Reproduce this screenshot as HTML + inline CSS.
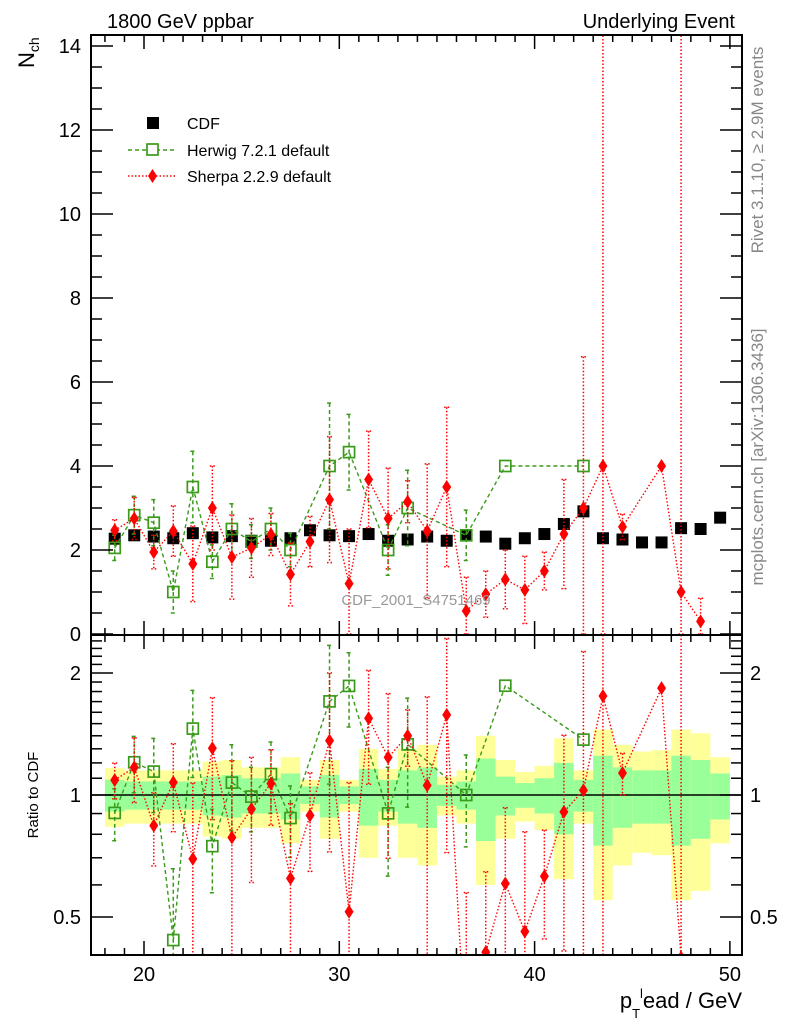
<!DOCTYPE html>
<html><head><meta charset="utf-8"><style>
html,body{margin:0;padding:0;background:#fff;width:786px;height:1024px;overflow:hidden;}
svg{display:block;font-family:"Liberation Sans",sans-serif;}
</style></head><body>
<svg id="c" width="786" height="1024" viewBox="0 0 786 1024" xmlns="http://www.w3.org/2000/svg">
<defs>
<clipPath id="cm"><rect x="91" y="35" width="651" height="600"/></clipPath>
<clipPath id="cr"><rect x="91" y="635" width="651" height="320"/></clipPath>
</defs>
<g id="bands" clip-path="url(#cr)"></g>
<g id="marks"></g>
<rect x="91" y="35" width="651" height="920" fill="none" stroke="#000" stroke-width="2"/>
<line x1="91" y1="635" x2="742" y2="635" stroke="#000" stroke-width="2"/>
<g id="axes"></g>
<text x="107" y="28" font-size="20">1800 GeV ppbar</text>
<text x="735" y="28" font-size="20" text-anchor="end">Underlying Event</text>
<text transform="translate(34,68) rotate(-90)" font-size="22">N<tspan font-size="14" dy="5">ch</tspan></text>
<text transform="translate(38,795) rotate(-90)" font-size="15" text-anchor="middle">Ratio to CDF</text>
<text x="742" y="1008" font-size="22" text-anchor="end">p<tspan font-size="13" dy="10">T</tspan><tspan font-size="13" dy="-20">l</tspan><tspan font-size="22" dy="10">ead / GeV</tspan></text>
<text transform="translate(763,150) rotate(-90)" font-size="17" fill="#888" text-anchor="middle">Rivet 3.1.10, ≥ 2.9M events</text>
<text transform="translate(763,457) rotate(-90)" font-size="17" fill="#888" text-anchor="middle">mcplots.cern.ch [arXiv:1306.3436]</text>
<text x="416" y="605" font-size="15" fill="#999" text-anchor="middle">CDF_2001_S4751469</text>
<g>
<rect x="147" y="117" width="12" height="12" fill="#000"/>
<text x="187" y="129" font-size="16">CDF</text>
<line x1="128" y1="150" x2="175" y2="150" stroke="#3a9a1a" stroke-width="1.4" stroke-dasharray="4,3"/>
<rect x="147" y="144" width="11" height="11" fill="#fff" stroke="#3a9a1a" stroke-width="1.7"/>
<text x="187" y="156" font-size="16">Herwig 7.2.1 default</text>
<line x1="128" y1="176" x2="175" y2="176" stroke="#f00" stroke-width="1.4" stroke-dasharray="1.5,2"/>
<path d="M152.5,169 L157,176 L152.5,183 L148,176Z" fill="#f00"/>
<text x="187" y="182" font-size="16">Sherpa 2.2.9 default</text>
</g>
</svg>
<script>
const xs=[18.5,19.5,20.5,21.5,22.5,23.5,24.5,25.5,26.5,27.5,28.5,29.5,30.5,31.5,32.5,33.5,34.5,35.5,36.5,37.5,38.5,39.5,40.5,41.5,42.5,43.5,44.5,45.5,46.5,47.5,48.5,49.5];
const cdfVals=[2.27,2.35,2.32,2.28,2.40,2.30,2.33,2.22,2.22,2.28,2.47,2.35,2.33,2.38,2.22,2.25,2.32,2.22,2.35,2.32,2.15,2.28,2.38,2.62,2.92,2.28,2.25,2.18,2.18,2.52,2.50,2.77];
const cdfRelTot=[0.165,0.15,0.15,0.15,0.15,0.21,0.22,0.17,0.17,0.24,0.09,0.22,0.09,0.3,0.16,0.3,0.33,0.11,0.15,0.4,0.22,0.14,0.18,0.38,0.15,0.45,0.33,0.28,0.29,0.45,0.42,0.24];
const cdfRelStat=[0.09,0.08,0.08,0.08,0.08,0.11,0.12,0.1,0.1,0.13,0.05,0.12,0.05,0.16,0.09,0.15,0.17,0.06,0.08,0.23,0.11,0.07,0.1,0.2,0.09,0.25,0.17,0.15,0.15,0.25,0.22,0.13];
const herX=[18.5,19.5,20.5,21.5,22.5,23.5,24.5,25.5,26.5,27.5,29.5,30.5,32.5,33.5,36.5,38.5,42.5];
const herVals=[2.05,2.83,2.65,1.0,3.5,1.72,2.5,2.2,2.5,2.0,4.0,4.33,2.0,3.0,2.35,4.0,4.0];
const herErr=[0.3,0.45,0.55,0.5,0.85,0.4,0.6,0.4,0.5,0.4,1.5,0.9,0.6,0.9,0.6,0,0];
const sheX=[18.5,19.5,20.5,21.5,22.5,23.5,24.5,25.5,26.5,27.5,28.5,29.5,30.5,31.5,32.5,33.5,34.5,35.5,36.5,37.5,38.5,39.5,40.5,41.5,42.5,43.5,44.5,46.5,47.5,48.5];
const sheVals=[2.47,2.75,1.95,2.45,1.67,3.0,1.83,2.05,2.37,1.42,2.2,3.2,1.2,3.68,2.75,3.15,2.45,3.5,0.55,0.95,1.3,1.05,1.5,2.38,3.0,4.0,2.55,4.0,1.0,0.3];
const sheErr=[0.25,0.5,0.4,0.6,0.9,1.0,1.0,0.7,0.5,0.75,0.6,1.5,1.3,1.15,1.2,0.5,1.6,1.9,0.8,0.55,0.7,0.8,0.45,1.3,3.6,11,0.3,0,14,0.55];

const NS="http://www.w3.org/2000/svg";
const X=v=>144+(v-20)*19.53;
const Y=v=>634-v*42;
const R=v=>795-Math.log2(Math.max(v,1e-3))*122;
function mk(tag,attrs,parent){const e=document.createElementNS(NS,tag);for(const k in attrs)e.setAttribute(k,attrs[k]);parent.appendChild(e);return e;}
const marks=document.getElementById('marks');
const axes=document.getElementById('axes');
const bands=document.getElementById('bands');
const gm=mk('g',{'clip-path':'url(#cm)'},marks);
const gr=mk('g',{'clip-path':'url(#cr)'},marks);

xs.forEach((x,i)=>{
  const x0=X(x-0.5),x1=X(x+0.5);
  const t=cdfRelTot[i],s=cdfRelStat[i];
  const b1=mk('rect',{x:x0,y:R(1+t),width:x1-x0,height:R(1-t)-R(1+t),fill:'#ffff99'},bands);
  
  
  const b2=mk('rect',{x:x0,y:R(1+s),width:x1-x0,height:R(1-s)-R(1+s),fill:'#99ff99'},bands);
  
  
});
mk('line',{x1:91,y1:795,x2:742,y2:795,stroke:'#000','stroke-width':1.5},gr);

xs.forEach((x,i)=>{
  const p=mk('rect',{x:X(x)-6,y:Y(cdfVals[i])-6,width:12,height:12,fill:'#000'},gm);
  
  
});

function series(xa,va,ea,col,dash,kind,g,tf,ref){
  const pts=xa.map((x,i)=>[X(x),tf(va[i],ref(x))]);
  const l=mk('polyline',{points:pts.map(p=>p.join(',')).join(' '),fill:'none',stroke:col,'stroke-width':1.4,'stroke-dasharray':dash},g);
  
  
  xa.forEach((x,i)=>{
    const cx=X(x),r=ref(x);
    if(ea[i]>0){
      const y1=tf(va[i]+ea[i],r),y2=tf(Math.max(va[i]-ea[i],0.001),r);
      const eb=mk('path',{d:`M${cx},${y1}V${y2}M${cx-2.5},${y1}H${cx+2.5}M${cx-2.5},${y2}H${cx+2.5}`,stroke:col,'stroke-width':1.5,'stroke-dasharray':dash,fill:'none'},g);
      
      
    }
    const cy=tf(va[i],r);
    let m;
    if(kind==='herwig') m=mk('rect',{x:cx-5.5,y:cy-5.5,width:11,height:11,fill:'none',stroke:col,'stroke-width':1.7},g);
    else m=mk('path',{d:`M${cx},${cy-7}L${cx+4.5},${cy}L${cx},${cy+7}L${cx-4.5},${cy}Z`,fill:col},g);
    
    
  });
}
const cdfAt=x=>cdfVals[xs.indexOf(x)];
series(herX,herVals,herErr,'#3a9a1a','4,3','herwig',gm,(v)=>Y(v),cdfAt);
series(sheX,sheVals,sheErr,'#f00','1.5,2','sherpa',gm,(v)=>Y(v),cdfAt);
series(herX,herVals,herErr,'#3a9a1a','4,3','herwig',gr,(v,r)=>R(v/r),cdfAt);
series(sheX,sheVals,sheErr,'#f00','1.5,2','sherpa',gr,(v,r)=>R(v/r),cdfAt);

function tick(x1,y1,x2,y2,name){const t=mk('line',{x1,y1,x2,y2,stroke:'#000','stroke-width':1.5},axes);}
function label(x,y,s,anchor,size,name){const t=mk('text',{x,y,'font-size':size,'text-anchor':anchor},axes);t.textContent=s;}
for(let v=18;v<=50;v++){
  const major=v%10===0,len=major?14:7,x=X(v);
  tick(x,955,x,955-len,'x-tick');tick(x,635,x,635-len,'x-tick');tick(x,635,x,635+len,'x-tick');tick(x,35,x,35+len,'x-tick');
  if(major) label(x,981,String(v),'middle',20,'x-tick-label');
}
for(let v=0;v<=14;v+=0.5){
  const major=v%2===0,len=major?22:11,y=Y(v);
  tick(91,y,91+len,y,'y-tick');tick(742,y,742-len,y,'y-tick');
  if(major) label(81,y+7,String(v),'end',20,'y-tick-label');
}
const rt=[0.5,0.6,0.7,0.8,0.9,1,1.1,1.2,1.3,1.4,1.5,1.6,1.7,1.8,1.9,2,2.1,2.2,2.3,2.4,2.5];
rt.forEach(v=>{
  const major=(v===0.5||v===1||v===2),len=major?22:11,y=R(v);
  if(y<636||y>955)return;
  tick(91,y,91+len,y,'ratio-tick');tick(742,y,742-len,y,'ratio-tick');
  if(major){label(81,y+7,String(v),'end',20,'ratio-tick-label');label(750,y+7,String(v),'start',20,'ratio-tick-label-right');}
});
</script>
</body></html>
